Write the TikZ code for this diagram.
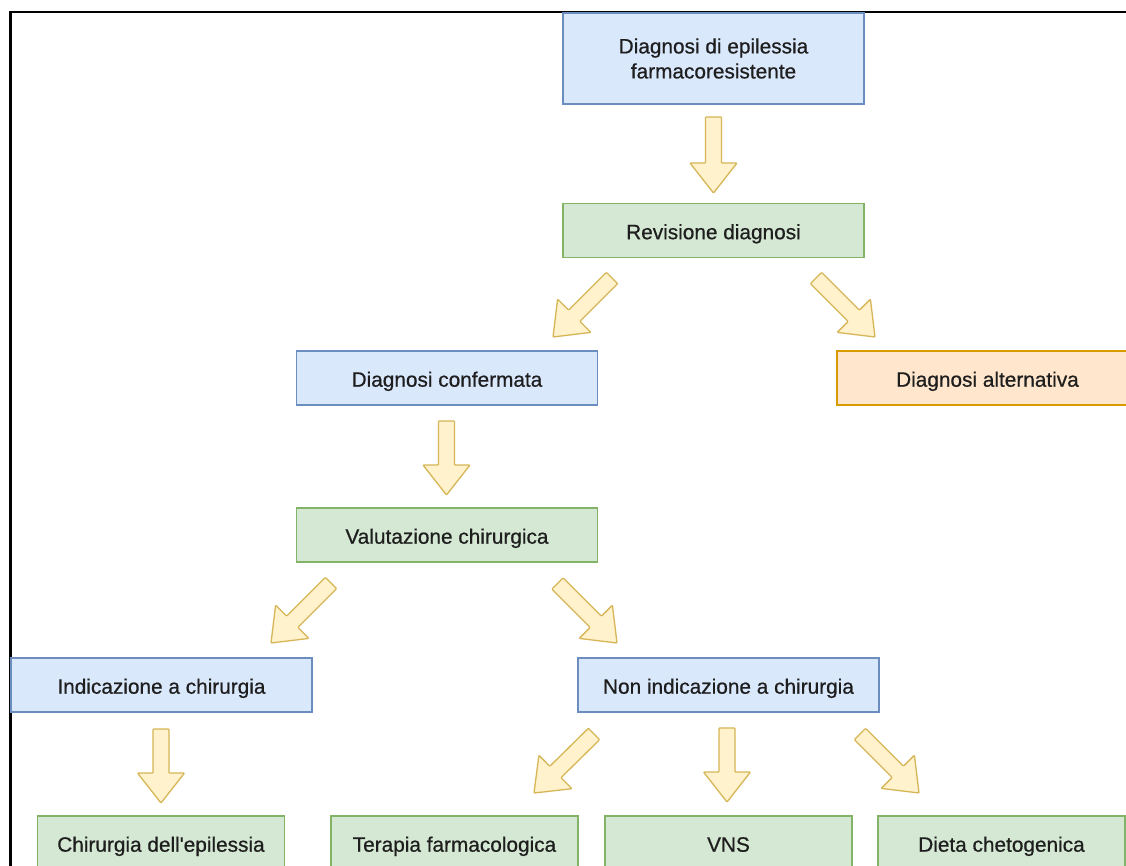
\documentclass[tikz,border=0pt]{standalone}
\usepackage{fontspec}
\setmainfont{Liberation Sans}
\newfontfamily\labelfont{Liberation Sans}[FakeBold=0.6]
\usetikzlibrary{calc}

\definecolor{blueFill}{HTML}{DAE8FC}
\definecolor{blueLine}{HTML}{6C8EBF}
\definecolor{greenFill}{HTML}{D5E8D4}
\definecolor{greenLine}{HTML}{82B366}
\definecolor{orangeFill}{HTML}{FFE6CC}
\definecolor{orangeLine}{HTML}{D79B00}
\definecolor{arrowFill}{HTML}{FFF2CC}
\definecolor{arrowLine}{HTML}{D6B656}
\definecolor{labelInk}{HTML}{1E1E1E}

\tikzset{
  box/.style={rectangle, draw, line width=1.3pt, minimum height=54pt,
    inner sep=0pt, align=center, text=labelInk,
    font=\labelfont\fontsize{20.8}{25}\selectfont},
  oneline/.style={text height=22pt, text depth=4.6pt},
  bluebox/.style={box, oneline, fill=blueFill, draw=blueLine},
  greenbox/.style={box, oneline, fill=greenFill, draw=greenLine},
  orangebox/.style={box, oneline, fill=orangeFill, draw=orangeLine},
  wide/.style={minimum width=301pt},
  narrow/.style={minimum width=247pt},
  fatarrow/.style={fill=arrowFill, draw=arrowLine, line width=1.3pt,
    line join=round, rounded corners=0.8pt},
}

% Block arrow from coordinate #1 to coordinate #2
% (shaft 16pt wide, head 47pt wide and 30pt long)
\newcommand\blockarrow[2]{%
  \coordinate (#1-hb) at ($(#2)!30pt!(#1)$);
  \draw[fatarrow]
    ($(#1)!8pt!90:(#2)$) --
    ($(#1-hb)!8pt!-90:(#1)$) --
    ($(#1-hb)!23.5pt!-90:(#1)$) --
    (#2) --
    ($(#1-hb)!23.5pt!90:(#1)$) --
    ($(#1-hb)!8pt!90:(#1)$) --
    ($(#1)!8pt!-90:(#2)$) -- cycle;
}

\begin{document}
\begin{tikzpicture}[x=1pt, y=-1pt]
  \clip (0,0) rectangle (1126,866);
  \fill[white] (0,0) rectangle (1126,866);

  % frame lines
  \draw[line width=2.3pt, black] (10.5,880) -- (10.5,12) -- (1140,12);

  % boxes
  \node[box, wide, minimum height=91pt, fill=blueFill, draw=blueLine]
    (diag) at (713.5,58.5) {Diagnosi di epilessia\\farmacoresistente};
  \node[greenbox, wide] (rev) at (713.5,230.5) {Revisione diagnosi};
  \node[bluebox, wide] (conf) at (447,378) {Diagnosi confermata};
  \node[orangebox, wide] (alt) at (987.5,378) {Diagnosi alternativa};
  \node[greenbox, wide] (val) at (447,535) {Valutazione chirurgica};
  \node[bluebox, wide] (ind) at (161.5,685) {Indicazione a chirurgia};
  \node[bluebox, wide] (non) at (728.5,685) {Non indicazione a chirurgia};
  \node[greenbox, narrow] (chir) at (161,843) {Chirurgia dell'epilessia};
  \node[greenbox, narrow] (ter) at (454.5,843) {Terapia farmacologica};
  \node[greenbox, narrow] (vns) at (728.5,843) {VNS};
  \node[greenbox, narrow] (diet) at (1001.5,843) {Dieta chetogenica};

  % arrow end points
  \coordinate (a1s) at (713.5,117);  \coordinate (a1e) at (713.5,193);
  \coordinate (a2s) at (612,278);    \coordinate (a2e) at (553,337);
  \coordinate (a3s) at (816,278);    \coordinate (a3e) at (875,337);
  \coordinate (a4s) at (446.5,421);  \coordinate (a4e) at (446.5,495);
  \coordinate (a5s) at (331,583);    \coordinate (a5e) at (271,643);
  \coordinate (a6s) at (557.5,583.5);\coordinate (a6e) at (617,643);
  \coordinate (a7s) at (161,729);    \coordinate (a7e) at (161,803);
  \coordinate (a8s) at (594,734);    \coordinate (a8e) at (534,793);
  \coordinate (a9s) at (727,728);    \coordinate (a9e) at (727,802);
  \coordinate (a10s) at (860,734);   \coordinate (a10e) at (919,793);

  \blockarrow{a1s}{a1e}
  \blockarrow{a2s}{a2e}
  \blockarrow{a3s}{a3e}
  \blockarrow{a4s}{a4e}
  \blockarrow{a5s}{a5e}
  \blockarrow{a6s}{a6e}
  \blockarrow{a7s}{a7e}
  \blockarrow{a8s}{a8e}
  \blockarrow{a9s}{a9e}
  \blockarrow{a10s}{a10e}
\end{tikzpicture}
\end{document}
